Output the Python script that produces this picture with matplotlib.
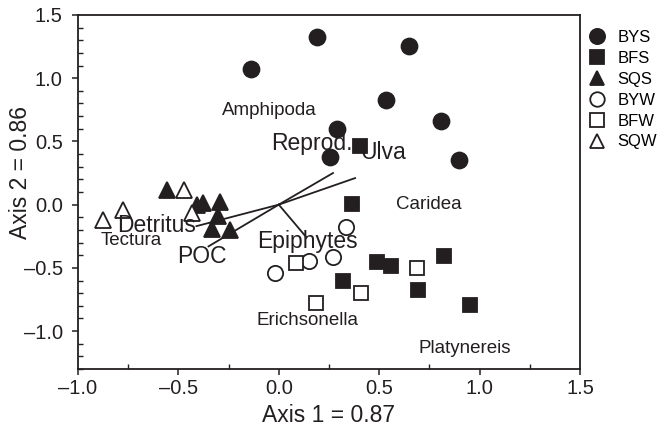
import matplotlib
matplotlib.use("Agg")
import matplotlib.pyplot as plt
from matplotlib.ticker import MultipleLocator

plt.rcParams['font.family'] = ['Liberation Sans', 'DejaVu Sans']

INK = "#231f20"

# site scores
bys_x = [-0.138, 0.190, 0.648, 0.534, 0.290, 0.255, 0.808, 0.897]
bys_y = [1.073, 1.326, 1.255, 0.828, 0.598, 0.377, 0.661, 0.353]
bfs_x = [0.404, 0.363, 0.491, 0.557, 0.824, 0.321, 0.692, 0.952]
bfs_y = [0.460, 0.005, -0.457, -0.483, -0.404, -0.602, -0.676, -0.794]
sqs_x = [-0.555, -0.409, -0.376, -0.293, -0.301, -0.334, -0.243]
sqs_y = [0.116, -0.003, 0.015, 0.023, -0.090, -0.193, -0.201]
byw_x = [-0.017, 0.152, 0.271, 0.335]
byw_y = [-0.544, -0.444, -0.412, -0.175]
bfw_x = [0.084, 0.185, 0.408, 0.690]
bfw_y = [-0.460, -0.781, -0.702, -0.499]
sqw_x = [-0.471, -0.774, -0.877, -0.431]
sqw_y = [0.116, -0.043, -0.122, -0.064]

# environmental vectors (end points, from origin)
vec_names = ["Reprod.", "Ulva", "Detritus", "POC", "Epiphytes"]
vec_x = [0.27, 0.38, -0.41, -0.35, 0.138]
vec_y = [0.25, 0.21, -0.17, -0.33, -0.259]
vec_lab_x = [0.165, 0.519, -0.607, -0.382, 0.145]
vec_lab_y = [0.487, 0.416, -0.161, -0.407, -0.288]

# taxa labels
taxa = ["Amphipoda", "Caridea", "Tectura", "Erichsonella", "Platynereis"]
taxa_x = [-0.049, 0.748, -0.736, 0.145, 0.927]
taxa_y = [0.741, 0.005, -0.280, -0.913, -1.134]

fig = plt.figure(figsize=(6.62, 4.32), dpi=100)
ax = fig.add_axes([0.1178, 0.1458, 0.7583, 0.8195])

series = [
    ("BYS", bys_x, bys_y, "o", 11.5, INK),
    ("BFS", bfs_x, bfs_y, "s", 10, INK),
    ("SQS", sqs_x, sqs_y, "^", 11, INK),
    ("BYW", byw_x, byw_y, "o", 11, "white"),
    ("BFW", bfw_x, bfw_y, "s", 10, "white"),
    ("SQW", sqw_x, sqw_y, "^", 11, "white"),
]
for name, xs, ys, m, ms, fc in series:
    ax.plot(xs, ys, ls="none", marker=m, ms=ms, mfc=fc, mec=INK,
            mew=1.3, label=name, zorder=3)

for vx, vy in zip(vec_x, vec_y):
    ax.plot([0, vx], [0, vy], color=INK, lw=1.3, zorder=2)
for name, lx, ly in zip(vec_names, vec_lab_x, vec_lab_y):
    ax.text(lx, ly, name, fontsize=16.5, color=INK, ha="center", va="center", zorder=4)

for name, tx, ty in zip(taxa, taxa_x, taxa_y):
    ax.text(tx, ty, name, fontsize=13.5, color=INK, ha="center", va="center", zorder=4)

ax.set_xlim(-1.0, 1.5)
ax.set_ylim(-1.3, 1.5)
ax.xaxis.set_major_locator(MultipleLocator(0.5))
ax.xaxis.set_minor_locator(MultipleLocator(0.25))
ax.yaxis.set_major_locator(MultipleLocator(0.5))
ax.yaxis.set_minor_locator(MultipleLocator(0.1))
ax.xaxis.set_major_formatter(lambda v, p: f"{v:.1f}".replace("-", "\u2013"))
ax.yaxis.set_major_formatter(lambda v, p: f"{v:.1f}".replace("-", "\u2013"))
ax.tick_params(which="major", direction="out", length=4, width=1.1,
               labelsize=14.5, colors=INK)
ax.tick_params(axis="y", which="major", pad=7)
ax.tick_params(which="minor", direction="in", length=3.5, width=1.0, colors=INK)
for sp in ax.spines.values():
    sp.set_linewidth(1.3)
    sp.set_color(INK)

ax.set_xlabel("Axis 1 = 0.87", fontsize=16.5, color=INK, labelpad=4)
ax.set_ylabel("Axis 2 = 0.86", fontsize=16.5, color=INK)
ax.yaxis.set_label_coords(-0.092, 0.556)

ax.legend(loc="upper left", bbox_to_anchor=(0.889, 0.93),
          bbox_transform=fig.transFigure, frameon=False, fontsize=12,
          handlelength=1.0, handletextpad=0.75, labelspacing=0.35,
          borderpad=0, borderaxespad=0, markerscale=0.95)

fig.savefig("out.png", dpi=100)
